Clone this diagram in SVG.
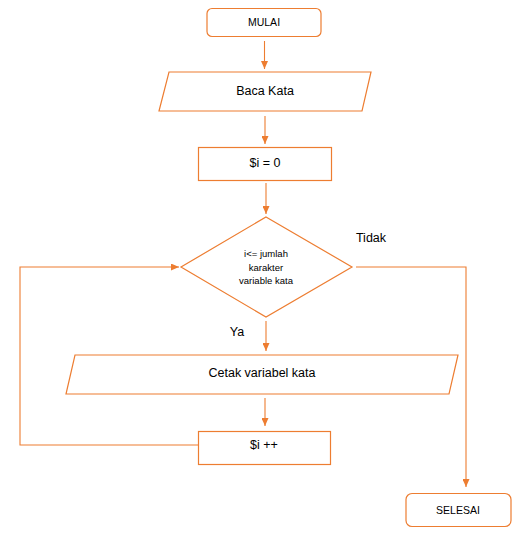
<svg xmlns="http://www.w3.org/2000/svg" width="526" height="545" viewBox="0 0 526 545">
<style>
.s{fill:#fff;stroke:#ED7D31;stroke-width:1.2}
.c{fill:none;stroke:#ED7D31;stroke-width:1.1}
text{font-family:"Liberation Sans",Arial,sans-serif;fill:#000;text-anchor:middle}
.m{font-size:12.5px}
.sm{font-size:10.5px}
.d{font-size:9.5px}
</style>
<defs>
<marker id="ah" markerUnits="userSpaceOnUse" markerWidth="8" markerHeight="7" viewBox="0 0 8 7" refX="8" refY="3.5" orient="auto">
<path d="M0,0 L8,3.5 L0,7 Z" fill="#ED7D31"/>
</marker>
</defs>
<rect width="526" height="545" fill="#fff"/>
<g id="connectors">
<line class="c" x1="264.5" y1="41" x2="264.5" y2="69" marker-end="url(#ah)"/>
<line class="c" x1="265" y1="116" x2="265" y2="144" marker-end="url(#ah)"/>
<line class="c" x1="266" y1="183" x2="266" y2="214" marker-end="url(#ah)"/>
<line class="c" x1="266" y1="321" x2="266" y2="351" marker-end="url(#ah)"/>
<line class="c" x1="265" y1="398" x2="265" y2="426" marker-end="url(#ah)"/>
<polyline class="c" points="198,445 20,445 20,267 179,267" marker-end="url(#ah)"/>
<polyline class="c" points="356,267 466,267 466,487" marker-end="url(#ah)"/>
<text class="m" x="371" y="242">Tidak</text>
<text class="m" x="237" y="336">Ya</text>
</g>
<g id="mulai">
<rect class="s" x="207" y="8.5" width="114" height="28" rx="5"/>
<text class="sm" x="264" y="26">MULAI</text>
</g>
<g id="baca">
<polygon class="s" points="169,72 371,72 362,111 159,111"/>
<text class="m" x="265" y="95">Baca Kata</text>
</g>
<g id="init">
<rect class="s" x="198.5" y="147.5" width="133" height="33"/>
<text class="m" x="265" y="167">$i = 0</text>
</g>
<g id="decision">
<polygon class="s" points="266,217 352,267 266,317 181,267"/>
<text class="d" x="266" y="257">i&lt;= jumlah</text>
<text class="d" x="266" y="271">karakter</text>
<text class="d" x="266" y="284">variable kata</text>
</g>
<g id="cetak">
<polygon class="s" points="75,355 458,355 449,394 66,394"/>
<text class="m" x="262" y="377">Cetak variabel kata</text>
</g>
<g id="inc">
<rect class="s" x="198.5" y="431.5" width="132" height="33"/>
<text class="m" x="264" y="449">$i ++</text>
</g>
<g id="selesai">
<rect class="s" x="406" y="493.5" width="105" height="33" rx="6"/>
<text class="sm" x="458" y="514">SELESAI</text>
</g>
</svg>
